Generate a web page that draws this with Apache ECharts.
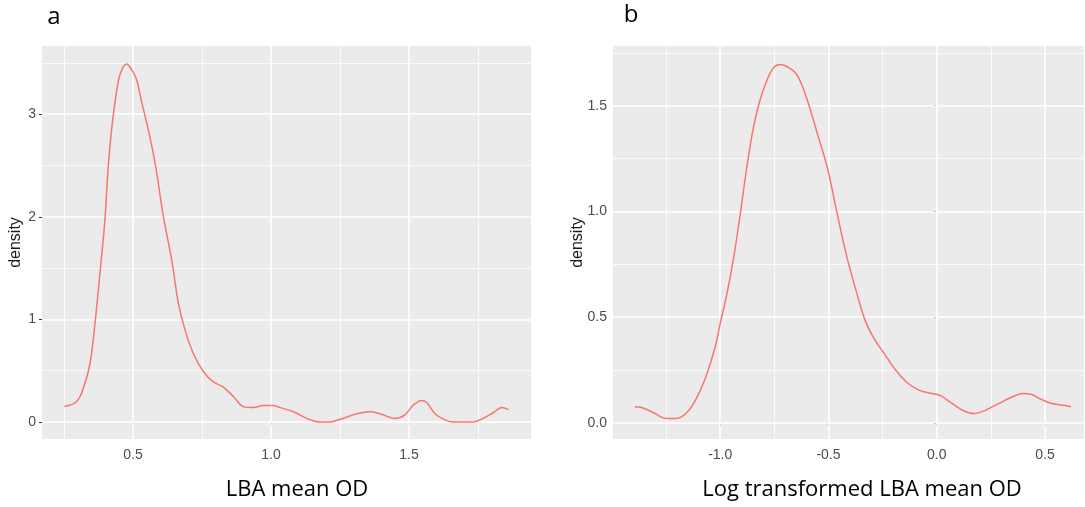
<!DOCTYPE html>
<html>
<head>
<meta charset="utf-8">
<title>LBA mean OD density</title>
<script src="https://cdn.jsdelivr.net/npm/echarts@6/dist/echarts.min.js"></script>
<style>
  html, body { margin: 0; padding: 0; background: #ffffff; }
  #chart { width: 1085px; height: 507px; }
</style>
</head>
<body>
<div id="chart"></div>
<script>
// Kernel density of LBA mean OD (panel a) and of its log (panel b)
const odX = [0.251, 0.296, 0.320, 0.344, 0.362, 0.380, 0.398, 0.410, 0.426, 0.447,
  0.462, 0.477, 0.491, 0.511, 0.531, 0.555, 0.580, 0.610, 0.640, 0.664,
  0.688, 0.718, 0.755, 0.791, 0.827, 0.863, 0.899, 0.936, 0.972, 1.008,
  1.033, 1.081, 1.129, 1.178, 1.214, 1.250, 1.310, 1.359, 1.395, 1.449,
  1.485, 1.516, 1.546, 1.564, 1.594, 1.630, 1.660, 1.733, 1.769, 1.805,
  1.836, 1.860];
const odDensity = [0.15, 0.20, 0.33, 0.57, 0.96, 1.45, 1.97, 2.49, 2.94, 3.33,
  3.45, 3.49, 3.45, 3.35, 3.12, 2.85, 2.52, 2.00, 1.58, 1.16,
  0.90, 0.67, 0.49, 0.39, 0.34, 0.25, 0.15, 0.14, 0.16, 0.16,
  0.14, 0.10, 0.035, 0.00, 0.00, 0.026, 0.08, 0.10, 0.08, 0.035,
  0.07, 0.166, 0.21, 0.19, 0.08, 0.02, 0.00, 0.00, 0.035, 0.09,
  0.14, 0.12];

const logX = [-1.394, -1.363, -1.309, -1.248, -1.201, -1.154, -1.108, -1.062, -1.023, -1.000,
  -0.969, -0.938, -0.907, -0.877, -0.846, -0.815, -0.784, -0.753, -0.722, -0.684,
  -0.645, -0.599, -0.552, -0.506, -0.460, -0.414, -0.360, -0.329, -0.290, -0.244,
  -0.190, -0.136, -0.082, -0.028, 0.019, 0.065, 0.119, 0.173, 0.219, 0.281,
  0.343, 0.397, 0.435, 0.481, 0.528, 0.574, 0.620];
const logDensity = [0.076, 0.073, 0.049, 0.021, 0.021, 0.049, 0.12, 0.23, 0.36, 0.47,
  0.61, 0.78, 0.99, 1.21, 1.40, 1.53, 1.62, 1.68, 1.695, 1.68,
  1.645, 1.53, 1.37, 1.21, 0.99, 0.78, 0.58, 0.48, 0.40, 0.33,
  0.25, 0.19, 0.155, 0.14, 0.128, 0.096, 0.06, 0.044, 0.057, 0.089,
  0.12, 0.139, 0.136, 0.112, 0.093, 0.085, 0.077];

// Axis breaks
const aXMajor = [0.5, 1.0, 1.5];
const aXMinor = [0.25, 0.75, 1.25, 1.75];
const aYMajor = [0, 1, 2, 3];
const aYMinor = [0.5, 1.5, 2.5, 3.5];
const bXMajor = [-1.0, -0.5, 0.0, 0.5];
const bXMinor = [-1.25, -0.75, -0.25, 0.25];
const bYMajor = [0.0, 0.5, 1.0, 1.5];
const bYMinor = [0.25, 0.75, 1.25, 1.75];

const panelTitles = ['LBA mean OD', 'Log transformed LBA mean OD'];
const panelTags = ['a', 'b'];
const yTitle = 'density';

const curveColor = '#F8766D';
const tickFont = 'Liberation Sans';

function pairs(xs, ys) { return xs.map((x, i) => [x, ys[i]]); }

function gridLines(xMajor, xMinor, yMajor, yMinor) {
  const major = { color: '#ffffff', width: 1.6, type: 'solid' };
  const minor = { color: '#ffffff', width: 0.8, type: 'solid' };
  return [].concat(
    yMinor.map(v => ({ yAxis: v, lineStyle: minor })),
    xMinor.map(v => ({ xAxis: v, lineStyle: minor })),
    yMajor.map(v => ({ yAxis: v, lineStyle: major })),
    xMajor.map(v => ({ xAxis: v, lineStyle: major }))
  );
}

function xAxisOf(gridIndex, min, max, ticks) {
  return {
    type: 'value', gridIndex, min, max,
    axisLine: { show: false },
    splitLine: { show: false },
    minorSplitLine: { show: false },
    axisTick: { show: true, length: 3, lineStyle: { color: '#333333', width: 1 }, customValues: ticks },
    axisLabel: {
      customValues: ticks, color: '#4D4D4D', fontSize: 14, fontFamily: tickFont, margin: 9,
      formatter: v => Number(v).toFixed(1)
    }
  };
}

function yAxisOf(gridIndex, min, max, ticks, digits, gap) {
  return {
    type: 'value', gridIndex, min, max,
    name: yTitle, nameLocation: 'middle', nameGap: gap, nameMoveOverlap: false,
    nameTextStyle: { color: '#1A1A1A', fontSize: 16, fontFamily: tickFont },
    axisLine: { show: false },
    splitLine: { show: false },
    minorSplitLine: { show: false },
    axisTick: { show: true, length: 3, lineStyle: { color: '#333333', width: 1 }, customValues: ticks },
    axisLabel: {
      customValues: ticks, color: '#4D4D4D', fontSize: 14, fontFamily: tickFont, margin: 6,
      formatter: v => Number(v).toFixed(digits)
    }
  };
}

function backdrop(i, lines) {
  return {
    type: 'line', xAxisIndex: i, yAxisIndex: i, data: [], z: 1, silent: true,
    markLine: {
      silent: true, z: 1, animation: false, symbol: ['none', 'none'],
      label: { show: false }, emphasis: { disabled: true },
      data: lines
    }
  };
}

function curve(i, data) {
  return {
    type: 'line', xAxisIndex: i, yAxisIndex: i, data, z: 3,
    showSymbol: false, smooth: 0.35, silent: true,
    lineStyle: { color: curveColor, width: 1.5 }
  };
}

const chart = echarts.init(document.getElementById('chart'), null, { renderer: 'canvas' });
chart.setOption({
  animation: false,
  backgroundColor: '#ffffff',
  grid: [
    { left: 42, top: 46, width: 489, height: 393, show: true, backgroundColor: '#EBEBEB', borderWidth: 0 },
    { left: 613, top: 46, width: 471, height: 393, show: true, backgroundColor: '#EBEBEB', borderWidth: 0 }
  ],
  xAxis: [
    xAxisOf(0, 0.17, 1.942, aXMajor),
    xAxisOf(1, -1.495, 0.68, bXMajor)
  ],
  yAxis: [
    yAxisOf(0, -0.166, 3.665, aYMajor, 0, 18),
    yAxisOf(1, -0.076, 1.782, bYMajor, 1, 27)
  ],
  series: [
    backdrop(0, gridLines(aXMajor, aXMinor, aYMajor, aYMinor)),
    backdrop(1, gridLines(bXMajor, bXMinor, bYMajor, bYMinor)),
    curve(0, pairs(odX, odDensity)),
    curve(1, pairs(logX, logDensity))
  ],
  graphic: [
    { type: 'text', x: 54, y: 17, style: { text: panelTags[0], align: 'center', verticalAlign: 'middle', font: '24px "Open Sans"', fill: '#000000' } },
    { type: 'text', x: 631, y: 15, style: { text: panelTags[1], align: 'center', verticalAlign: 'middle', font: '24px "Open Sans"', fill: '#000000' } },
    { type: 'text', x: 297, y: 490, style: { text: panelTitles[0], align: 'center', verticalAlign: 'middle', font: '22px "Open Sans"', fill: '#000000' } },
    { type: 'text', x: 862, y: 490, style: { text: panelTitles[1], align: 'center', verticalAlign: 'middle', font: '22px "Open Sans"', fill: '#000000' } }
  ]
});
</script>
</body>
</html>
